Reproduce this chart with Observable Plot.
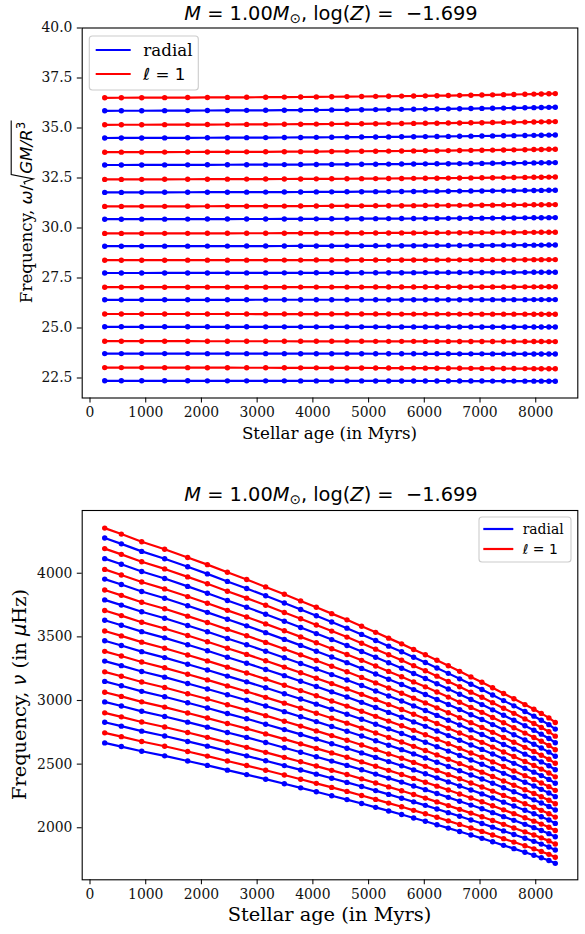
<!DOCTYPE html>
<html><head><meta charset="utf-8">
<script src="https://cdn.jsdelivr.net/npm/d3@7"></script>
<script src="https://cdn.jsdelivr.net/npm/@observablehq/plot@0.6"></script>
<style>
html,body{margin:0;padding:0;background:#fff;}
#wrap{width:585px;}
#wrap svg{display:block;}
</style></head><body><div id="wrap"></div>
<script>
// ---- data ----
const ages = [264, 563, 928, 1340, 1753, 2107, 2466, 2812, 3153, 3488, 3781, 4062, 4338, 4612, 4875, 5127, 5360, 5593, 5809, 6019, 6227, 6431, 6634, 6837, 7034, 7226, 7423, 7608, 7806, 7967, 8100, 8236, 8351];
// dimensionless frequencies omega/sqrt(GM/R^3) at the first and last age
const radialStart = [22.36, 23.72, 25.06, 26.41, 27.75, 29.09, 30.44, 31.78, 33.15, 34.50, 35.86];
const radialEnd   = [22.34, 23.70, 25.05, 26.42, 27.79, 29.15, 30.52, 31.89, 33.27, 34.65, 36.04];
const dipoleStart = [23.02, 24.34, 25.70, 27.04, 28.39, 29.73, 31.08, 32.43, 33.79, 35.16, 36.51];
const dipoleEnd   = [22.96, 24.32, 25.69, 27.06, 28.42, 29.79, 31.17, 32.55, 33.94, 35.32, 36.72];
// fraction of the start->end drift reached at each age
const driftShape = [0, 0.01, 0.02, 0.04, 0.06, 0.08, 0.10, 0.12, 0.14, 0.17, 0.19, 0.22, 0.25, 0.28, 0.31, 0.34, 0.37, 0.40, 0.43, 0.47, 0.50, 0.54, 0.58, 0.62, 0.66, 0.70, 0.75, 0.79, 0.84, 0.88, 0.92, 0.96, 1.0];
// microHz per unit of dimensionless frequency at each age
const nuDyn = [119.27, 117.98, 116.32, 114.71, 112.92, 111.36, 109.70, 108.14, 106.53, 104.92, 103.49, 102.10, 100.72, 99.37, 97.99, 96.65, 95.39, 94.14, 92.93, 91.77, 90.56, 89.36, 88.15, 86.94, 85.78, 84.57, 83.32, 82.16, 80.90, 79.87, 78.97, 77.99, 77.00];
const xTicks = [0, 1000, 2000, 3000, 4000, 5000, 6000, 7000, 8000];
const yTicksTop = [22.5, 25.0, 27.5, 30.0, 32.5, 35.0, 37.5, 40.0];
const yTicksBottom = [2000, 2500, 3000, 3500, 4000];
const seriesKeys = ["radial", "dipole"];
const seriesColors = ["#0000ff", "#ff0000"];

// ---- build table ----
const rows = [];
for (let m = 0; m < radialStart.length; m++) {
  [["radial", radialStart, radialEnd], ["dipole", dipoleStart, dipoleEnd]].forEach(([type, s, e]) => {
    ages.forEach((a, i) => {
      const omega = s[m] + (e[m] - s[m]) * driftShape[i];
      rows.push({type, mode: type + m, age: a, omega, nu: omega * nuDyn[i]});
    });
  });
}

const W = 585;
const SERIF = "'DejaVu Serif', serif";
const SANS = "'DejaVu Sans', sans-serif";

function makePlot(cfg) {
  return Plot.plot({
    width: W, height: cfg.height,
    marginTop: cfg.mt, marginBottom: cfg.mb, marginLeft: 81.7, marginRight: 7.7,
    style: {fontFamily: SERIF, fontSize: "13.9px", color: "#111", background: "#fff"},
    x: {domain: [-140, 8755]},
    y: {domain: cfg.ydomain},
    color: {domain: seriesKeys, range: seriesColors},
    marks: [
      Plot.line(rows, {x: "age", y: cfg.yfield, z: "mode", stroke: "type", strokeWidth: 2.2}),
      Plot.dot(rows, {x: "age", y: cfg.yfield, fill: "type", r: 2.7}),
      Plot.axisX(xTicks, {anchor: "bottom", tickSize: 4.9, tickPadding: 4.6, tickFormat: d => String(d), label: null, strokeWidth: 1.1, fontSize: 13.9}),
      Plot.axisY(cfg.yticks, {anchor: "left", tickSize: 4.9, tickPadding: 4.9, tickFormat: cfg.yfmt, label: null, strokeWidth: 1.1, fontSize: 13.9}),
      Plot.frame({stroke: "#000", strokeWidth: 1.1})
    ]
  });
}

const topSvg = makePlot({height: 460, mt: 27.5, mb: 62.5, ydomain: [21.5, 40], yfield: "omega", yticks: yTicksTop, yfmt: d => d.toFixed(1)});
const botSvg = makePlot({height: 474, mt: 50, mb: 54.7, ydomain: [1591, 4493], yfield: "nu", yticks: yTicksBottom, yfmt: d => String(d)});
document.getElementById("wrap").append(topSvg, botSvg);

function addTitle(svg, y) {
  const t = d3.select(svg).append("text").attr("x", 331).attr("y", y).attr("text-anchor", "middle")
    .attr("font-family", SANS).attr("font-size", "19.4px").attr("fill", "#000").style("white-space", "pre");
  t.append("tspan").attr("font-style", "italic").text("M");
  t.append("tspan").text(" = 1.00");
  t.append("tspan").attr("font-style", "italic").text("M");
  t.append("tspan").attr("font-size", "13.6px").attr("dy", 3.5).text("\u2299");
  t.append("tspan").attr("dy", -3.5).text(", log(");
  t.append("tspan").attr("font-style", "italic").text("Z");
  t.append("tspan").text(") =  \u22121.699");
}
addTitle(topSvg, 19.5);
addTitle(botSvg, 40.5);

function addXLabel(svg, y, size) {
  d3.select(svg).append("text").attr("x", 329.5).attr("y", y).attr("text-anchor", "middle")
    .attr("font-family", SERIF).attr("font-size", size).attr("fill", "#000").text("Stellar age (in Myrs)");
}
addXLabel(topSvg, 438.5, "16.7px");
addXLabel(botSvg, 461, "19.4px");

// top y label with square root
{
  const g = d3.select(topSvg).append("g").attr("transform", "translate(31.7,212.5) rotate(-90)");
  const t = g.append("text").attr("text-anchor", "start").attr("font-size", "16.7px").attr("fill", "#000").style("white-space", "pre");
  t.append("tspan").attr("font-family", SERIF).text("Frequency, ");
  t.append("tspan").attr("font-family", SANS).attr("font-style", "italic").text("\u03c9");
  t.append("tspan").attr("font-family", SANS).text("/");
  t.append("tspan").attr("font-family", SANS).attr("font-style", "italic").attr("dx", 11).text("GM/R");
  t.append("tspan").attr("font-family", SANS).attr("font-size", "11.7px").attr("dy", -6.5).text("3");
  const node = t.node();
  const str = node.textContent;
  const endAll = node.getEndPositionOfChar(str.length - 1).x;
  t.attr("x", -endAll / 2);
  const iG = str.indexOf("GM");
  const slashEnd = node.getEndPositionOfChar(iG - 1).x;
  const endX = node.getEndPositionOfChar(str.length - 1).x;
  const x0 = slashEnd + 0.5;
  g.append("path")
    .attr("d", `M${x0},-6.5 L${x0 + 2.2},-7.8 L${x0 + 5.4},1.6 L${x0 + 9.8},-20.5 L${endX + 1.5},-20.5`)
    .attr("fill", "none").attr("stroke", "#000").attr("stroke-width", 1.1).attr("stroke-linejoin", "miter");
}
// bottom y label
{
  const g = d3.select(botSvg).append("g").attr("transform", "translate(26,234.5) rotate(-90)");
  const t = g.append("text").attr("text-anchor", "middle").attr("font-size", "19.4px").attr("fill", "#000").style("white-space", "pre");
  t.append("tspan").attr("font-family", SERIF).text("Frequency, ");
  t.append("tspan").attr("font-family", SANS).attr("font-style", "italic").text("\u03bd");
  t.append("tspan").attr("font-family", SERIF).text(" (in ");
  t.append("tspan").attr("font-family", SANS).attr("font-style", "italic").text("\u03bc");
  t.append("tspan").attr("font-family", SERIF).text("Hz)");
}

function addLegend(svg, box, lineX0, lineX1, ys, textX, fs) {
  const s = d3.select(svg);
  s.append("rect").attr("x", box[0]).attr("y", box[1]).attr("width", box[2]).attr("height", box[3])
    .attr("rx", 3).attr("fill", "#fff").attr("fill-opacity", 0.8).attr("stroke", "#cccccc").attr("stroke-width", 1.1);
  seriesKeys.forEach((k, i) => {
    s.append("line").attr("x1", lineX0).attr("x2", lineX1).attr("y1", ys[i]).attr("y2", ys[i])
      .attr("stroke", seriesColors[i]).attr("stroke-width", 2.2);
    const t = s.append("text").attr("x", textX).attr("y", ys[i] + fs * 0.36).attr("text-anchor", "start")
      .attr("font-size", fs + "px").attr("fill", "#000").style("white-space", "pre");
    if (k === "radial") {
      t.attr("font-family", SERIF).text("radial");
    } else {
      t.attr("font-family", SANS);
      t.append("tspan").attr("font-style", "italic").text("\u2113");
      t.append("tspan").text(" = 1");
    }
  });
}
addLegend(topSvg, [89.3, 36, 109, 54], 95.7, 130.7, [50, 74], 143.3, 16.7);
addLegend(botSvg, [479, 57, 92, 45], 483.3, 513.3, [69, 89], 522.7, 13.9);
</script>
</body></html>
